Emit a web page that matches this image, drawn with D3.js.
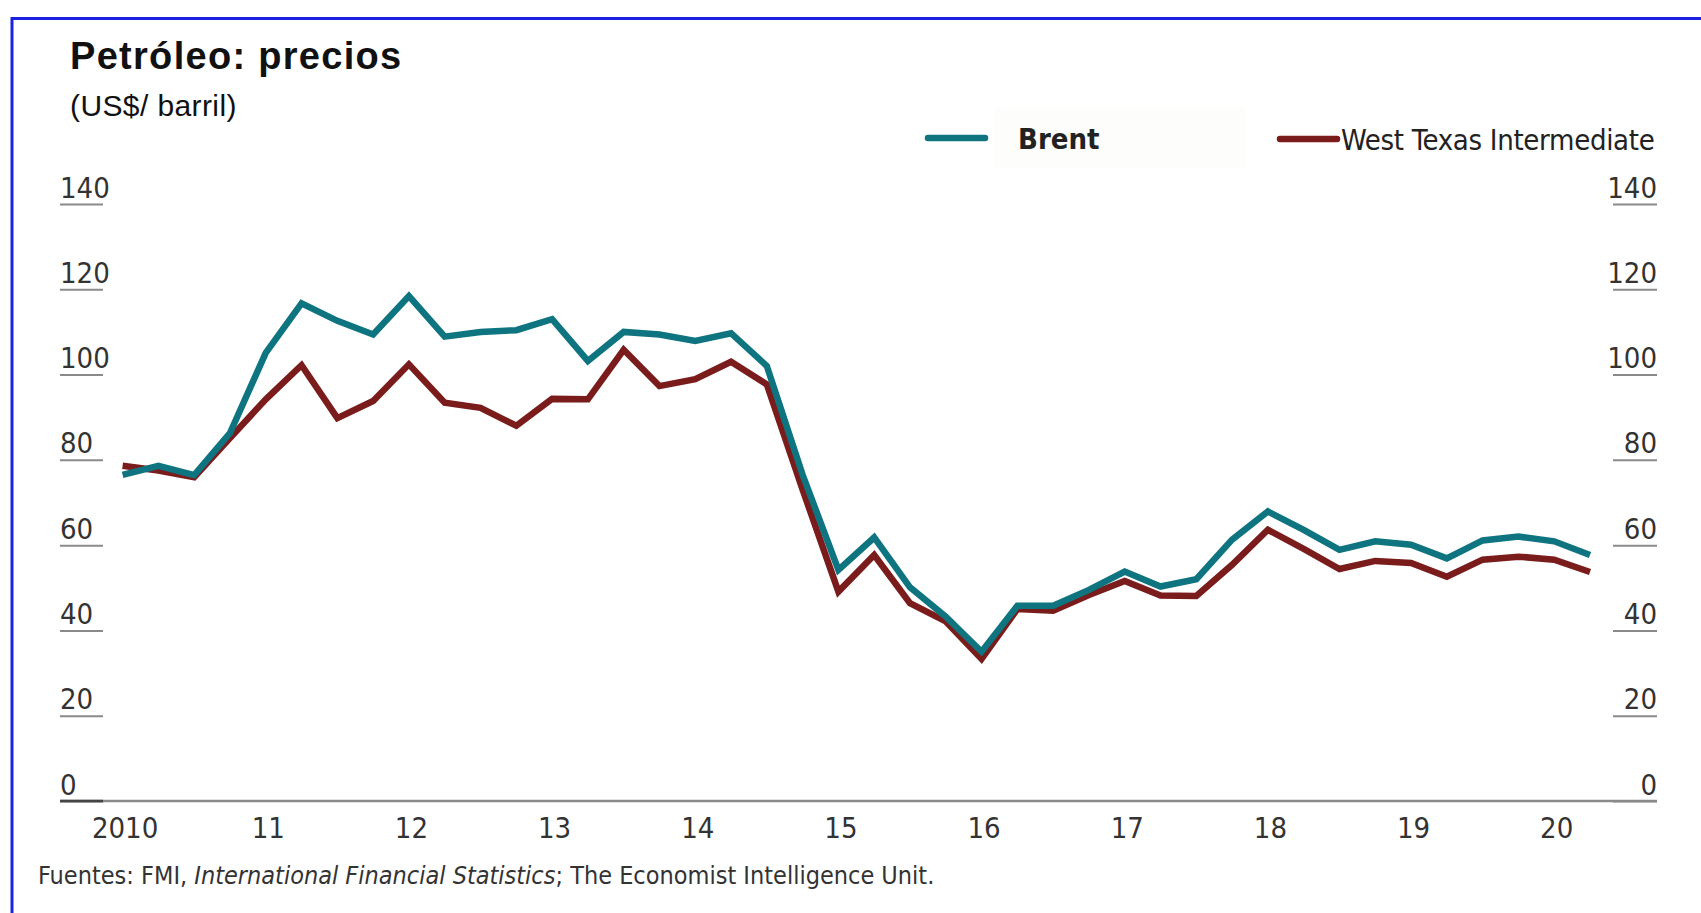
<!DOCTYPE html>
<html>
<head>
<meta charset="utf-8">
<script src="https://cdn.jsdelivr.net/npm/d3@7/dist/d3.min.js"></script>
<style>
  html, body { margin: 0; padding: 0; background: #fff; }
  svg { display: block; }
  .narrow { font-family: "Liberation Sans Narrow", "DejaVu Sans Condensed", "Roboto Condensed", sans-serif; }
</style>
</head>
<body>
<svg id="chart"></svg>
<script>
// quarterly observations, 2010Q1 .. 2020Q2
const quarters = [
  "2010Q1","2010Q2","2010Q3","2010Q4","2011Q1","2011Q2","2011Q3","2011Q4",
  "2012Q1","2012Q2","2012Q3","2012Q4","2013Q1","2013Q2","2013Q3","2013Q4",
  "2014Q1","2014Q2","2014Q3","2014Q4","2015Q1","2015Q2","2015Q3","2015Q4",
  "2016Q1","2016Q2","2016Q3","2016Q4","2017Q1","2017Q2","2017Q3","2017Q4",
  "2018Q1","2018Q2","2018Q3","2018Q4","2019Q1","2019Q2","2019Q3","2019Q4",
  "2020Q1","2020Q2"
];
const brent = [
  76.5, 78.6, 76.4, 86.3, 105.1, 116.7, 112.6, 109.4,
  118.4, 108.9, 110.0, 110.4, 113.0, 103.2, 110.0, 109.4,
  107.9, 109.7, 102.0, 76.5, 54.2, 61.8, 50.1, 43.2,
  35.0, 45.8, 45.8, 49.5, 53.8, 50.3, 52.0, 61.3,
  67.9, 63.6, 58.9, 60.9, 60.1, 56.9, 61.1, 62.0,
  60.9, 57.7
];
const wti = [
  78.6, 77.5, 75.9, 85.1, 94.2, 102.2, 89.8, 93.8,
  102.4, 93.4, 92.2, 88.0, 94.3, 94.2, 105.8, 97.3,
  98.9, 103.0, 97.7, 73.0, 49.1, 57.7, 46.4, 42.1,
  33.3, 45.0, 44.6, 48.3, 51.6, 48.2, 48.1, 55.4,
  63.6, 59.1, 54.4, 56.3, 55.8, 52.6, 56.6, 57.3,
  56.6, 53.7
];
const yearTicks = [2010, 2011, 2012, 2013, 2014, 2015, 2016, 2017, 2018, 2019, 2020];
const valueTicks = [0, 20, 40, 60, 80, 100, 120, 140];
const seriesNames = ["Brent", "West Texas Intermediate"];
const colors = ["#0e7480", "#7b1c1c"];

const W = 1701, H = 913;
const svg = d3.select("#chart").attr("width", W).attr("height", H);

// blue frame (top and left edges only visible)
svg.append("line").attr("x1", 11).attr("x2", W).attr("y1", 18.5).attr("y2", 18.5)
  .attr("stroke", "#1a22e0").attr("stroke-width", 3);
svg.append("line").attr("x1", 12).attr("x2", 12).attr("y1", 17).attr("y2", H)
  .attr("stroke", "#1a22e0").attr("stroke-width", 3);

const toYear = q => +q.slice(0, 4) + (+q.slice(5) - 1) / 4;

const x = d3.scaleLinear().domain([2010, 2020.25]).range([122.6, 1590]);
const y = d3.scaleLinear().domain([0, 140]).range([801, 204]);

// titles
svg.append("text").attr("x", 70).attr("y", 69)
  .style("font-family", "Liberation Sans, Arial, sans-serif")
  .style("font-weight", "bold").style("font-size", "38px").style("fill", "#111")
  .style("letter-spacing", "1.3px")
  .text("Petróleo: precios");
svg.append("text").attr("x", 70).attr("y", 116)
  .style("font-family", "Liberation Sans, Arial, sans-serif")
  .style("font-size", "30px").style("fill", "#111")
  .style("letter-spacing", "0.4px")
  .text("(US$/ barril)");

// left axis: labels above short underline ticks
const leftAxis = svg.append("g")
  .attr("class", "narrow")
  .attr("transform", "translate(60,0)")
  .call(d3.axisRight(y).tickValues(valueTicks).tickSize(43).tickFormat(d3.format("d")));
leftAxis.select(".domain").remove();
leftAxis.selectAll(".tick line").attr("stroke", "#8a8a8a").attr("stroke-width", 2);
leftAxis.selectAll(".tick text")
  .attr("x", 0).attr("dy", "-7").attr("text-anchor", "start")
  .style("font-size", "29px").style("fill", "#333");

const rightAxis = svg.append("g")
  .attr("class", "narrow")
  .attr("transform", "translate(1657,0)")
  .call(d3.axisLeft(y).tickValues(valueTicks).tickSize(44).tickFormat(d3.format("d")));
rightAxis.select(".domain").remove();
rightAxis.selectAll(".tick line").attr("stroke", "#8a8a8a").attr("stroke-width", 2);
rightAxis.selectAll(".tick text")
  .attr("x", 0).attr("dy", "-7").attr("text-anchor", "end")
  .style("font-size", "29px").style("fill", "#333");

// baseline across the chart
svg.append("line").attr("x1", 60).attr("x2", 1657).attr("y1", y(0)).attr("y2", y(0))
  .attr("stroke", "#8a8a8a").attr("stroke-width", 2.5);
svg.append("line").attr("x1", 60).attr("x2", 103).attr("y1", y(0)).attr("y2", y(0))
  .attr("stroke", "#444").attr("stroke-width", 2.5);

// bottom axis, year labels only
const xAxis = svg.append("g")
  .attr("class", "narrow")
  .attr("transform", `translate(2,${y(0)})`)
  .call(d3.axisBottom(x).tickValues(yearTicks).tickSize(0)
    .tickFormat(d => d === 2010 ? "2010" : String(d).slice(2)));
xAxis.select(".domain").remove();
xAxis.selectAll(".tick text").attr("dy", "0").attr("y", 37)
  .style("font-size", "29px").style("fill", "#333");

// lines
const line = d3.line()
  .x((d, i) => x(toYear(quarters[i])))
  .y(d => y(d));

[wti, brent].forEach((s, i) => {
  svg.append("path")
    .datum(s)
    .attr("fill", "none")
    .attr("stroke", s === brent ? colors[0] : colors[1])
    .attr("stroke-width", 6.5)
    .attr("stroke-linejoin", "miter")
    .attr("d", line);
});

// legend
const legend = svg.append("g").attr("class", "narrow");
legend.append("rect").attr("x", 995).attr("y", 108).attr("width", 250).attr("height", 60)
  .attr("fill", "#fdfdfb");
legend.append("line").attr("x1", 928).attr("x2", 985).attr("y1", 138).attr("y2", 138)
  .attr("stroke", colors[0]).attr("stroke-width", 6.5).attr("stroke-linecap", "round");
legend.append("text").attr("x", 1018).attr("y", 149)
  .style("font-size", "29px").style("font-weight", "600").style("fill", "#222")
  .text(seriesNames[0]);
legend.append("line").attr("x1", 1280).attr("x2", 1337).attr("y1", 139).attr("y2", 139)
  .attr("stroke", colors[1]).attr("stroke-width", 6.5).attr("stroke-linecap", "round");
legend.append("text").attr("x", 1341).attr("y", 150)
  .style("font-size", "29px").style("fill", "#222")
  .style("letter-spacing", "-0.3px")
  .text(seriesNames[1]);

// source note
const src = svg.append("text").attr("class", "narrow").attr("x", 38).attr("y", 884)
  .style("font-size", "25px").style("fill", "#333");
src.append("tspan").text("Fuentes: FMI, ");
src.append("tspan").style("font-style", "italic").text("International Financial Statistics");
src.append("tspan").text("; The Economist Intelligence Unit.");
</script>
</body>
</html>
